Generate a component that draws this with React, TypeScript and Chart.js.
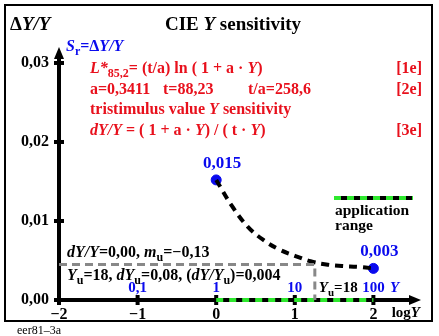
import React, { useEffect, useRef } from 'react';
import { Chart, registerables } from 'chart.js';

Chart.register(...registerables);

// ---- data ----
const curveLogY = [0, 0.2, 0.4, 0.6, 0.8, 1.0, 1.2, 1.4, 1.6, 1.8, 2.0];
const curveSens = [0.0152, 0.0119, 0.0093, 0.0076, 0.0064, 0.0056, 0.0049, 0.0045, 0.0043, 0.0042, 0.0040];
const markerLogY = [0, 2];
const markerSens = [0.0152, 0.004];
const markerLabels = ['0,015', '0,003'];
const uLogY = 1.255; // log10(18)
const uSens = 0.0045;
const appRangeLogY = [0, 2];
const xTickValues = [-2, -1, 0, 1, 2];
const yTickValues = [0, 0.01, 0.02, 0.03];
const yTickLabels = ['0,00', '0,01', '0,02', '0,03'];
const yScaleLogY = [-1, 0, 1, 2];
const yScaleLabels = ['0,1', '1', '10', '100'];

const FONT = '"Liberation Serif", "Times New Roman", serif';
const RED = '#e8101c';
const BLUE = '#0a0aee';
const GREEN = '#2ee82e';

type Seg = { t: string; i?: boolean; sub?: boolean; n?: boolean };

function drawRich(ctx: CanvasRenderingContext2D, segs: Seg[], x: number, y: number, size: number, color: string, align: 'left' | 'right' | 'center' = 'left') {
  const fontFor = (s: Seg) => `${s.i ? 'italic ' : ''}${s.n ? '' : 'bold '}${s.sub ? Math.round(size * 0.72) : size}px ${FONT}`;
  let total = 0;
  for (const s of segs) {
    ctx.font = fontFor(s);
    total += ctx.measureText(s.t).width;
  }
  let cx = align === 'right' ? x - total : align === 'center' ? x - total / 2 : x;
  ctx.fillStyle = color;
  ctx.textBaseline = 'alphabetic';
  ctx.textAlign = 'left';
  for (const s of segs) {
    ctx.font = fontFor(s);
    ctx.fillText(s.t, cx, s.sub ? y + size * 0.28 : y);
    cx += ctx.measureText(s.t).width;
  }
}

const decorPlugin = {
  id: 'decor',
  beforeDraw(chart: any) {
    const ctx = chart.ctx as CanvasRenderingContext2D;
    ctx.save();
    ctx.fillStyle = '#ffffff';
    ctx.fillRect(0, 0, chart.width, chart.height);
    ctx.strokeStyle = '#000';
    ctx.lineWidth = 2;
    ctx.strokeRect(5, 5, 427, 316);
    ctx.restore();
  },
  beforeDatasetsDraw(chart: any) {
    const ctx = chart.ctx as CanvasRenderingContext2D;
    const xs = chart.scales.x;
    const ys = chart.scales.y;
    const x0 = xs.getPixelForValue(-2);
    const y0 = ys.getPixelForValue(0);
    ctx.save();
    ctx.strokeStyle = '#000';
    ctx.fillStyle = '#000';
    ctx.lineWidth = 4;
    ctx.lineCap = 'butt';
    // y axis
    ctx.beginPath();
    ctx.moveTo(x0, y0 + 2);
    ctx.lineTo(x0, chart.chartArea.top + 8);
    ctx.stroke();
    ctx.beginPath();
    ctx.moveTo(x0, chart.chartArea.top - 2);
    ctx.lineTo(x0 - 5, chart.chartArea.top + 10);
    ctx.lineTo(x0 + 5, chart.chartArea.top + 10);
    ctx.closePath();
    ctx.fill();
    // x axis
    ctx.beginPath();
    ctx.moveTo(x0 - 2, y0);
    ctx.lineTo(chart.chartArea.right - 8, y0);
    ctx.stroke();
    ctx.beginPath();
    ctx.moveTo(chart.chartArea.right + 1, y0);
    ctx.lineTo(chart.chartArea.right - 11, y0 - 5);
    ctx.lineTo(chart.chartArea.right - 11, y0 + 5);
    ctx.closePath();
    ctx.fill();
    // tick marks
    for (const v of yTickValues) {
      const p = ys.getPixelForValue(v);
      ctx.fillRect(x0 - 5, p - 2, 10, 4);
    }
    for (const v of xTickValues) {
      const p = xs.getPixelForValue(v);
      ctx.fillRect(p - 2, y0 - 5, 4, 10);
    }
    ctx.restore();
  },
  afterDatasetsDraw(chart: any) {
    const ctx = chart.ctx as CanvasRenderingContext2D;
    const xs = chart.scales.x;
    const ys = chart.scales.y;
    const ca = chart.chartArea;
    ctx.save();

    // corner labels and title
    drawRich(ctx, [{ t: 'Δ' }, { t: 'Y/Y', i: true }], 10, 30, 19, '#000');
    drawRich(ctx, [{ t: 'CIE ' }, { t: 'Y', i: true }, { t: ' sensitivity' }], 233, 30, 19, '#000', 'center');

    // blue Sr
    drawRich(ctx, [{ t: 'S', i: true }, { t: 'r', sub: true }, { t: '=Δ' }, { t: 'Y/Y', i: true }], 66, 51, 16, BLUE);

    // red formulas
    const rx = 90;
    const fs = 16;
    drawRich(ctx, [{ t: 'L*', i: true }, { t: '85,2', sub: true }, { t: '= (t/a) ln ( 1 + a · ' }, { t: 'Y', i: true }, { t: ')' }], rx, 73, fs, RED);
    drawRich(ctx, [{ t: '[1e]' }], 422, 73, fs, RED, 'right');
    drawRich(ctx, [{ t: 'a=0,3411' }], rx, 94, fs, RED);
    drawRich(ctx, [{ t: 't=88,23' }], 163, 94, fs, RED);
    drawRich(ctx, [{ t: 't/a=258,6' }], 248, 94, fs, RED);
    drawRich(ctx, [{ t: '[2e]' }], 422, 94, fs, RED, 'right');
    drawRich(ctx, [{ t: 'tristimulus value ' }, { t: 'Y', i: true }, { t: ' sensitivity' }], rx, 114, fs, RED);
    drawRich(ctx, [{ t: 'dY/Y', i: true }, { t: ' = ( 1 + a · ' }, { t: 'Y', i: true }, { t: ') / ( t · ' }, { t: 'Y', i: true }, { t: ')' }], rx, 135, fs, RED);
    drawRich(ctx, [{ t: '[3e]' }], 422, 135, fs, RED, 'right');

    // marker value labels
    for (let k = 0; k < markerLogY.length; k++) {
      const px = xs.getPixelForValue(markerLogY[k]);
      const py = ys.getPixelForValue(markerSens[k]);
      drawRich(ctx, [{ t: markerLabels[k] }], px + 6, py - 12, 17, BLUE, 'center');
    }

    // legend
    const ly = 198;
    ctx.lineWidth = 4;
    ctx.strokeStyle = '#000';
    ctx.setLineDash([]);
    ctx.beginPath();
    ctx.moveTo(334, ly);
    ctx.lineTo(413, ly);
    ctx.stroke();
    ctx.strokeStyle = GREEN;
    ctx.setLineDash([7, 6]);
    ctx.beginPath();
    ctx.moveTo(334, ly);
    ctx.lineTo(413, ly);
    ctx.stroke();
    ctx.setLineDash([]);
    drawRich(ctx, [{ t: 'application' }], 335, 215, 15.5, '#000');
    drawRich(ctx, [{ t: 'range' }], 335, 230, 15.5, '#000');

    // black annotations
    drawRich(ctx, [{ t: 'dY/Y', i: true }, { t: '=0,00, ' }, { t: 'm', i: true }, { t: 'u', sub: true }, { t: '=−0,13' }], 67, 257, 16, '#000');
    drawRich(ctx, [{ t: 'Y', i: true }, { t: 'u', sub: true }, { t: '=18, ' }, { t: 'dY', i: true }, { t: 'u', sub: true }, { t: '=0,08, (' }, { t: 'dY/Y', i: true }, { t: 'u', sub: true }, { t: ')=0,004' }], 67, 280, 16, '#000');

    // blue Y scale labels on axis
    for (let k = 0; k < yScaleLogY.length; k++) {
      const px = xs.getPixelForValue(yScaleLogY[k]);
      drawRich(ctx, [{ t: yScaleLabels[k] }], px, 292, 15, BLUE, 'center');
    }
    drawRich(ctx, [{ t: 'Y', i: true }], 390, 292, 15, BLUE);
    drawRich(ctx, [{ t: 'Y', i: true }, { t: 'u', sub: true }, { t: '=18' }], xs.getPixelForValue(uLogY) + 4, 292, 15, '#000');

    // log Y axis title
    drawRich(ctx, [{ t: 'log' }, { t: 'Y', i: true }], ca.right, 317, 15, '#000', 'right');

    // footer
    drawRich(ctx, [{ t: 'eer81–3a', n: true }], 17, 334, 12, '#000');
    ctx.restore();
  },
};

export default function App() {
  const ref = useRef<HTMLCanvasElement>(null);
  useEffect(() => {
    if (!ref.current) return;
    const chart = new Chart(ref.current, {
      type: 'scatter',
      data: {
        datasets: [
          {
            label: 'guide',
            data: [
              { x: -2, y: uSens },
              { x: uLogY, y: uSens },
              { x: uLogY, y: 0 },
            ],
            showLine: true,
            borderColor: '#888888',
            borderWidth: 3,
            borderDash: [8, 5],
            pointRadius: 0,
            clip: false,
          } as any,
          {
            label: 'appRangeGreen',
            data: appRangeLogY.map((x) => ({ x, y: 0 })),
            showLine: true,
            borderColor: GREEN,
            borderWidth: 4,
            borderDash: [7, 6],
            pointRadius: 0,
            clip: false,
          } as any,
          {
            label: 'curve',
            data: curveLogY.map((x, i) => ({ x, y: curveSens[i] })),
            showLine: true,
            borderColor: '#000',
            borderWidth: 4,
            borderDash: [8, 6],
            tension: 0.4,
            pointRadius: 0,
            clip: false,
          } as any,
          {
            label: 'markers',
            data: markerLogY.map((x, i) => ({ x, y: markerSens[i] })),
            showLine: false,
            backgroundColor: BLUE,
            borderColor: BLUE,
            pointRadius: 5,
            clip: false,
          } as any,
        ],
      },
      options: {
        responsive: false,
        animation: false,
        devicePixelRatio: 1,
        layout: { padding: { top: 49, right: 19, left: 0, bottom: 0 } },
        plugins: {
          legend: { display: false },
          title: { display: false },
          tooltip: { enabled: false },
        },
        scales: {
          x: {
            type: 'linear',
            min: -2,
            max: 2.593,
            grid: { display: false, drawTicks: false },
            border: { display: false },
            afterFit: (s: any) => { s.height = 36; },
            afterBuildTicks: (s: any) => { s.ticks = xTickValues.map((v) => ({ value: v })); },
            ticks: {
              color: '#000',
              padding: 5,
              maxRotation: 0,
              font: { family: FONT, size: 16, weight: 'bold' },
              callback: (v: any) => (v < 0 ? '−' + Math.abs(v) : String(v)),
            },
          },
          y: {
            type: 'linear',
            min: 0,
            max: 0.03177,
            grid: { display: false, drawTicks: false },
            border: { display: false },
            afterFit: (s: any) => { s.width = 59; },
            afterBuildTicks: (s: any) => { s.ticks = yTickValues.map((v) => ({ value: v })); },
            ticks: {
              color: '#000',
              padding: 10,
              font: { family: FONT, size: 16, weight: 'bold' },
              callback: (v: any) => {
                const i = yTickValues.findIndex((t) => Math.abs(t - v) < 1e-9);
                return i >= 0 ? yTickLabels[i] : '';
              },
            },
          },
        },
      },
      plugins: [decorPlugin],
    });
    return () => chart.destroy();
  }, []);
  return (
    <div style={{ position: 'fixed', left: 0, top: 0, width: 439, height: 336, background: '#fff' }}>
      <canvas ref={ref} width={439} height={336} style={{ width: 439, height: 336, display: 'block' }} />
    </div>
  );
}
